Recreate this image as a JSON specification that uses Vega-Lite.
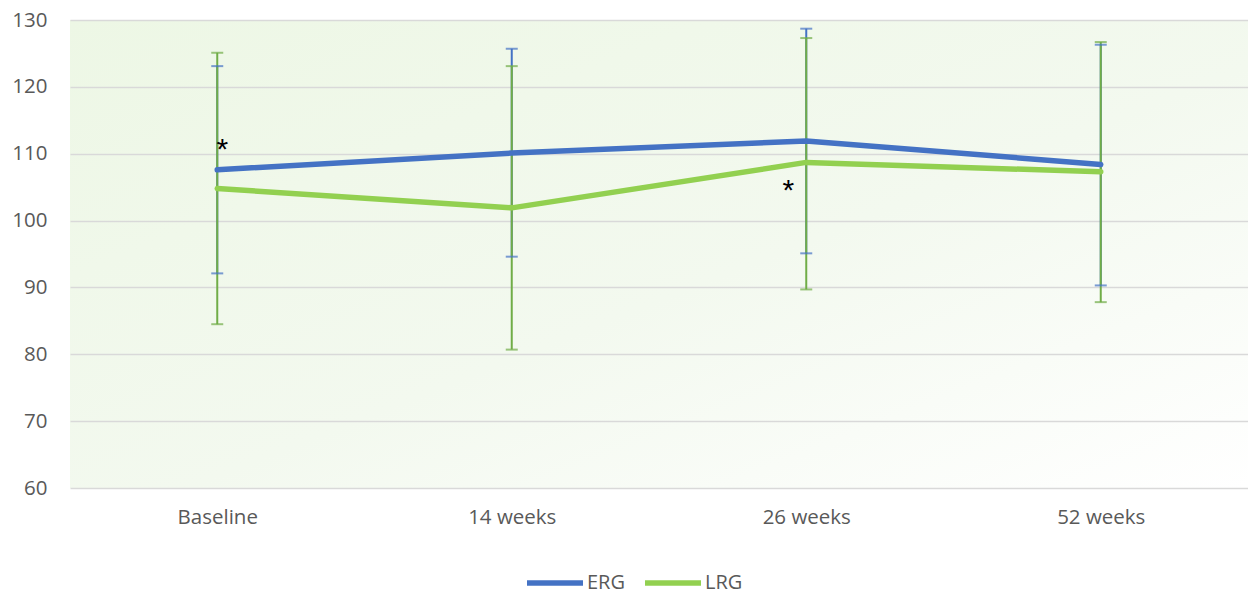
{
  "$schema": "https://vega.github.io/schema/vega-lite/v6.json",
  "autosize": {"type": "none"},
  "width": 1178,
  "height": 468,
  "padding": {"left": 70, "top": 20, "right": 0, "bottom": 105},
  "background": "#FFFFFF",
  "config": {
    "font": "Open Sans",
    "view": {
      "stroke": null,
      "fill": {"gradient": "linear", "x1": 0, "y1": 0, "x2": 1, "y2": 1, "stops": [{"offset": 0, "color": "#EDF7E5"}, {"offset": 0.55, "color": "#F3F9EF"}, {"offset": 1, "color": "#FFFFFF"}]}
    },
    "axis": {"labelFont": "Open Sans", "labelFontSize": 20.5, "labelColor": "#595959", "titleFont": "Open Sans"},
    "legend": {"labelFont": "Open Sans", "labelFontSize": 20, "labelColor": "#595959"}
  },
  "data": {
    "values": [
      {"time": "Baseline", "group": "ERG", "mean": 107.6, "lo": 92.1, "hi": 123.1},
      {"time": "14 weeks", "group": "ERG", "mean": 110.1, "lo": 94.6, "hi": 125.7},
      {"time": "26 weeks", "group": "ERG", "mean": 111.9, "lo": 95.1, "hi": 128.7},
      {"time": "52 weeks", "group": "ERG", "mean": 108.4, "lo": 90.3, "hi": 126.3},
      {"time": "Baseline", "group": "LRG", "mean": 104.8, "lo": 84.5, "hi": 125.1},
      {"time": "14 weeks", "group": "LRG", "mean": 101.9, "lo": 80.7, "hi": 123.1},
      {"time": "26 weeks", "group": "LRG", "mean": 108.7, "lo": 89.7, "hi": 127.3},
      {"time": "52 weeks", "group": "LRG", "mean": 107.3, "lo": 87.8, "hi": 126.7}
    ]
  },
  "encoding": {
    "x": {
      "field": "time", "type": "ordinal", "sort": ["Baseline", "14 weeks", "26 weeks", "52 weeks"],
      "scale": {"type": "point", "padding": 0.5},
      "axis": {"title": null, "labelAngle": 0, "ticks": false, "domain": false, "grid": false, "labelPadding": 19}
    }
  },
  "layer": [
    {
      "mark": {"type": "rule", "strokeWidth": 2},
      "encoding": {
        "y": {
          "field": "lo", "type": "quantitative",
          "scale": {"domain": [60, 130], "nice": false, "zero": false},
          "axis": {"title": null, "values": [60, 70, 80, 90, 100, 110, 120, 130], "ticks": false, "domain": false, "gridColor": "#D9D9D9", "gridWidth": 1.5, "labelPadding": 23}
        },
        "y2": {"field": "hi"},
        "color": {"condition": {"test": "datum.group === 'ERG'", "value": "#4472C4"}, "value": "#70AD47"}
      }
    },
    {
      "mark": {"type": "tick", "orient": "horizontal", "size": 12, "thickness": 2},
      "encoding": {
        "y": {"field": "lo", "type": "quantitative"},
        "color": {"condition": {"test": "datum.group === 'ERG'", "value": "#4472C4"}, "value": "#70AD47"}
      }
    },
    {
      "mark": {"type": "tick", "orient": "horizontal", "size": 12, "thickness": 2},
      "encoding": {
        "y": {"field": "hi", "type": "quantitative"},
        "color": {"condition": {"test": "datum.group === 'ERG'", "value": "#4472C4"}, "value": "#70AD47"}
      }
    },
    {
      "mark": {"type": "line", "strokeWidth": 5.5, "strokeCap": "round", "strokeJoin": "round"},
      "encoding": {
        "y": {"field": "mean", "type": "quantitative"},
        "color": {
          "field": "group", "type": "nominal",
          "scale": {"domain": ["ERG", "LRG"], "range": ["#4472C4", "#92D050"]},
          "legend": {"title": null, "orient": "none", "direction": "horizontal", "legendX": 468, "legendY": 546, "symbolType": "M-2,0H2", "symbolSize": 784, "symbolStrokeWidth": 5.5, "labelOffset": 15, "columnPadding": 9, "padding": 0}
        }
      }
    },
    {
      "data": {"values": [{"time": "Baseline", "v": 111.6, "label": "*"}]},
      "mark": {"type": "text", "fontSize": 30, "color": "#000000", "dx": 5, "dy": 7, "baseline": "middle", "font": "Liberation Sans"},
      "encoding": {"y": {"field": "v", "type": "quantitative"}, "text": {"field": "label"}}
    },
    {
      "data": {"values": [{"time": "26 weeks", "v": 105.4, "label": "*"}]},
      "mark": {"type": "text", "fontSize": 30, "color": "#000000", "dx": -18, "dy": 7, "baseline": "middle", "font": "Liberation Sans"},
      "encoding": {"y": {"field": "v", "type": "quantitative"}, "text": {"field": "label"}}
    }
  ]
}
